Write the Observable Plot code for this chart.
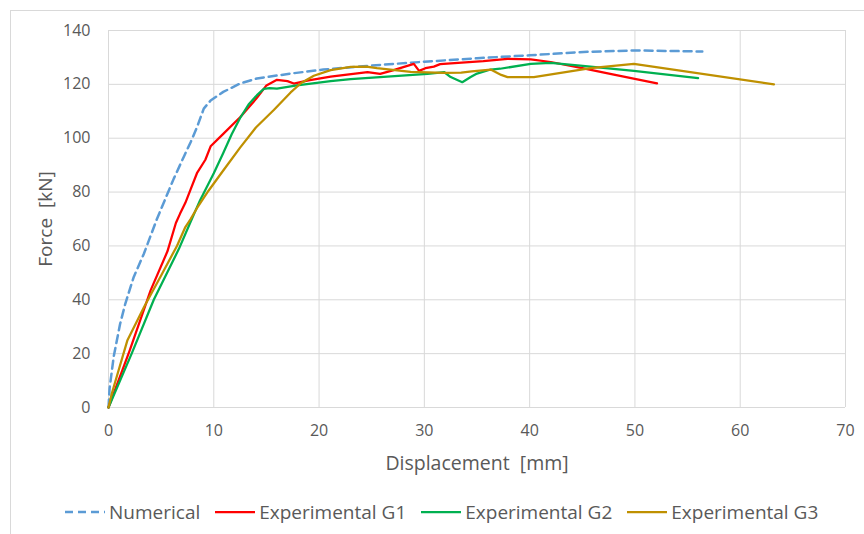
<!DOCTYPE html>
<html><head><meta charset="utf-8">
<script src="https://cdn.jsdelivr.net/npm/d3@7"></script>
<script src="https://cdn.jsdelivr.net/npm/@observablehq/plot@0.6"></script>
<style>
html,body{margin:0;padding:0;background:#fff;}
body{width:864px;height:534px;position:relative;overflow:hidden;font-family:"Open Sans",Lato,sans-serif;}
#frame{position:absolute;left:10px;top:10px;width:900px;height:600px;border-left:1px solid #d9d9d9;border-top:1px solid #d9d9d9;}
#chart{position:absolute;left:0;top:0;}
#legend{position:absolute;top:499px;left:65px;display:flex;align-items:center;font-size:19px;color:#595959;white-space:nowrap;}
#legend .item{display:flex;align-items:center;margin-right:15px;}
#legend svg{margin-right:4px;}
</style></head>
<body>
<div id="frame"></div>
<div id="chart"></div>
<div id="legend"></div>
<script>
const xTicks = [0, 10, 20, 30, 40, 50, 60, 70];
const yTicks = [0, 20, 40, 60, 80, 100, 120, 140];
const seriesNames = ["Numerical", "Experimental G1", "Experimental G2", "Experimental G3"];
const seriesColors = ["#5b9bd5", "#ff0000", "#00b050", "#bf9000"];

const numerical = [[0,0],[0.1,7],[0.5,19],[1.1,31],[1.6,38.6],[2.4,48.5],[3.35,57],[4.6,70],[6.2,85],[7.2,93.5],[7.8,98.5],[8.4,104],[9.05,111],[9.7,114],[10.9,117.2],[12.5,120.3],[14.1,122.2],[17.3,124],[20.4,125.5],[25,127],[30,128.4],[35,129.7],[40,130.8],[45.5,132.1],[50,132.6],[56.4,132.2]];
const g1 = [[0,0],[2,21],[4,43.5],[5.6,58],[6.4,68.5],[6.8,72],[7.3,76],[7.8,81],[8.4,87],[9.2,92],[9.7,97],[10.9,101.6],[12.5,107.8],[14.1,115],[15,119.6],[16,121.7],[17,121.2],[17.6,120.3],[19,121.5],[21.1,122.9],[24.6,124.5],[25.8,123.9],[27,125.2],[29,127.6],[29.5,125],[30.1,126],[30.9,126.6],[31.5,127.5],[35.6,128.6],[37.9,129.5],[40.1,129.3],[42,128.3],[45,126],[48,123.6],[52.1,120.4]];
const g2 = [[0,0],[2.2,20],[4.3,40],[6.7,59],[7.8,69],[8.7,77],[10,87],[10.9,94.5],[11.7,101.5],[12.5,107.5],[13.3,112.5],[14.1,116],[14.75,118.3],[15.3,118.6],[16,118.4],[17.9,119.6],[21.1,121.2],[23,121.9],[30.3,123.9],[31.9,124.5],[32.5,122.7],[33.6,120.8],[34.4,122.7],[35,124],[36.3,125.5],[37.2,125.8],[40.1,127.6],[42,128],[44.8,127],[49.9,125],[56,122.3]];
const g3 = [[0,0],[0.3,5],[1.8,25],[3.4,37.5],[5,49],[6.5,60],[7.3,67],[7.8,70],[8.4,74],[9.5,80.5],[10.9,88],[12.5,96.5],[14,104],[15.7,110.5],[17.3,117],[18.3,120.5],[19.5,123.2],[21.1,125.3],[23,126.5],[24.5,126.6],[25.5,126],[28.7,124.6],[31.9,124.3],[33.5,124.4],[34.5,124.8],[36.3,125.5],[37.3,123.5],[37.9,122.7],[40.4,122.7],[45.8,126],[49.9,127.6],[63.2,120]];
const seriesData = [numerical, g1, g2, g3];

const gridStyle = {stroke: "#d9d9d9", strokeOpacity: 1, strokeWidth: 1};
const chart = Plot.plot({
  width: 864, height: 480,
  marginLeft: 108, marginRight: 19, marginTop: 30, marginBottom: 73,
  style: {fontFamily: "'Open Sans', Lato, sans-serif", fontSize: "16px", color: "#595959", background: "transparent", overflow: "visible"},
  x: {domain: [0, 70]},
  y: {domain: [0, 140]},
  marks: [
    Plot.gridX(xTicks, gridStyle),
    Plot.gridY(yTicks, gridStyle),
    Plot.axisX(xTicks, {tickSize: 0, tickPadding: 17, label: null, fill: "#595959"}),
    Plot.axisY(yTicks, {tickSize: 0, tickPadding: 18, label: null, fill: "#595959"}),
    ...seriesData.map((d, i) => Plot.line(d, {
      x: p => p[0], y: p => p[1],
      stroke: seriesColors[i], strokeWidth: i === 0 ? 2.5 : 2.25,
      strokeDasharray: i === 0 ? "8,5" : null
    })),
    Plot.text(["Displacement\u00a0\u00a0[mm]"], {text: d => d, frameAnchor: "bottom", dy: 56, lineAnchor: "middle", textAnchor: "middle", fontSize: 19.5, fill: "#595959"}),
    Plot.text(["Force\u00a0\u00a0[kN]"], {text: d => d, frameAnchor: "left", dx: -63, rotate: -90, lineAnchor: "middle", textAnchor: "middle", fontSize: 19, fill: "#595959"})
  ]
});
document.getElementById("chart").appendChild(chart);

const legend = document.getElementById("legend");
seriesNames.forEach((name, i) => {
  const item = document.createElement("div");
  item.className = "item";
  item.innerHTML = `<svg width="40" height="10"><line x1="0" y1="5" x2="40" y2="5" stroke="${seriesColors[i]}" stroke-width="${i === 0 ? 2.5 : 2.25}" ${i === 0 ? 'stroke-dasharray="8,5"' : ''}/></svg><span>${name}</span>`;
  legend.appendChild(item);
});
</script>
</body></html>
